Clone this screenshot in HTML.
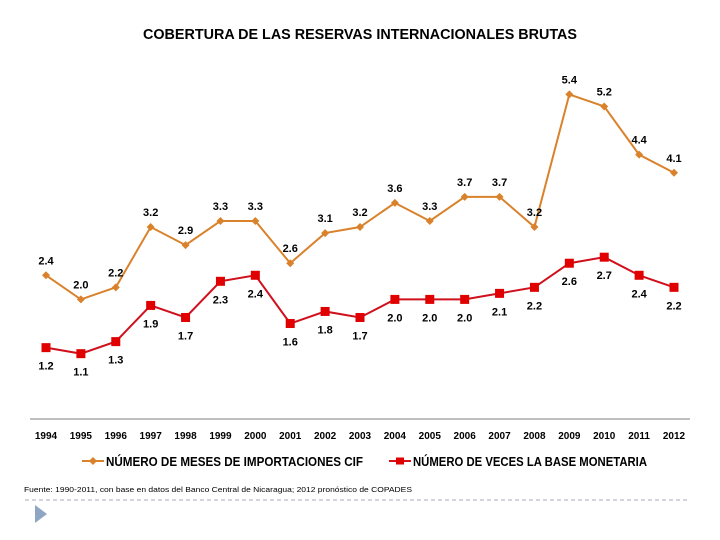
<!DOCTYPE html>
<html><head><meta charset="utf-8"><style>
body{margin:0;background:#fff;}
svg{display:block;font-family:"Liberation Sans",sans-serif;}
</style></head><body>
<svg id="c" width="720" height="540">
<text x="360" y="39" text-anchor="middle" font-size="14.5" font-weight="bold" textLength="434" lengthAdjust="spacingAndGlyphs">COBERTURA DE LAS RESERVAS INTERNACIONALES BRUTAS</text>
<line x1="30" y1="419" x2="690" y2="419" stroke="#999" stroke-width="1.2"/>
<g id="xt"></g><g id="s1"></g><g id="s2"></g>
<g>
<g>
<line x1="82" y1="461" x2="104" y2="461" stroke="#d9822b" stroke-width="2"/>
<path d="M93 457 L97 461 L93 465 L89 461Z" fill="#d9822b"/>
<text x="106" y="466" font-size="12.5" font-weight="bold" textLength="257" lengthAdjust="spacingAndGlyphs">NÚMERO DE MESES DE IMPORTACIONES CIF</text>
</g>
<g>
<line x1="389" y1="461" x2="411" y2="461" stroke="#d9101a" stroke-width="2"/>
<rect x="396" y="457.5" width="8" height="7" fill="#e00000"/>
<text x="413" y="466" font-size="12.5" font-weight="bold" textLength="234" lengthAdjust="spacingAndGlyphs">NÚMERO DE VECES LA BASE MONETARIA</text>
</g>
</g>
<text x="24" y="492" font-size="7.5" textLength="388" lengthAdjust="spacingAndGlyphs">Fuente: 1990-2011, con base en datos del Banco Central de Nicaragua; 2012 pronóstico de COPADES</text>
<line x1="25" y1="500" x2="690" y2="500" stroke="#aab" stroke-dasharray="4,3"/>
<path d="M35 505 L47 514 L35 523Z" fill="#8ea6c4"/>
</svg>
<script>
const years=["1994","1995","1996","1997","1998","1999","2000","2001","2002","2003","2004","2005","2006","2007","2008","2009","2010","2011","2012"];
const meses=[2.4,2.0,2.2,3.2,2.9,3.3,3.3,2.6,3.1,3.2,3.6,3.3,3.7,3.7,3.2,5.4,5.2,4.4,4.1];
const base=[1.2,1.1,1.3,1.9,1.7,2.3,2.4,1.6,1.8,1.7,2.0,2.0,2.0,2.1,2.2,2.6,2.7,2.4,2.2];
const NS="http://www.w3.org/2000/svg";
const xs=i=>46+i*(628/18);
const ys=v=>420-v*60.3;
function mk(t,a,p){const e=document.createElementNS(NS,t);for(const k in a)e.setAttribute(k,a[k]);p.appendChild(e);return e;}
const xt=document.getElementById('xt');
years.forEach((y,i)=>{const t=mk('text',{x:xs(i),y:439,'text-anchor':'middle','font-size':'10','font-weight':'bold'},xt);t.textContent=y;

});
function series(g,vals,color,marker,dy,name){
 const pl=mk('polyline',{points:vals.map((v,i)=>xs(i)+','+ys(v)).join(' '),fill:'none',stroke:color,'stroke-width':'2'},g);
 
 
 vals.forEach((v,i)=>{const x=xs(i),y=ys(v);let m;
  if(marker==='d')m=mk('path',{d:`M${x} ${y-4}L${x+4} ${y}L${x} ${y+4}L${x-4} ${y}Z`,fill:color},g);
  else m=mk('rect',{x:x-4.5,y:y-4.5,width:9,height:9,fill:'#e00000'},g);
  
  
  const t=mk('text',{x:x,y:y+dy,'text-anchor':'middle','font-size':'11','font-weight':'bold'},g);t.textContent=v.toFixed(1);
  
  });
}
series(document.getElementById('s1'),meses,'#d9822b','d',-11,'meses');
series(document.getElementById('s2'),base,'#d0101c','s',22,'base');
</script>
</body></html>
